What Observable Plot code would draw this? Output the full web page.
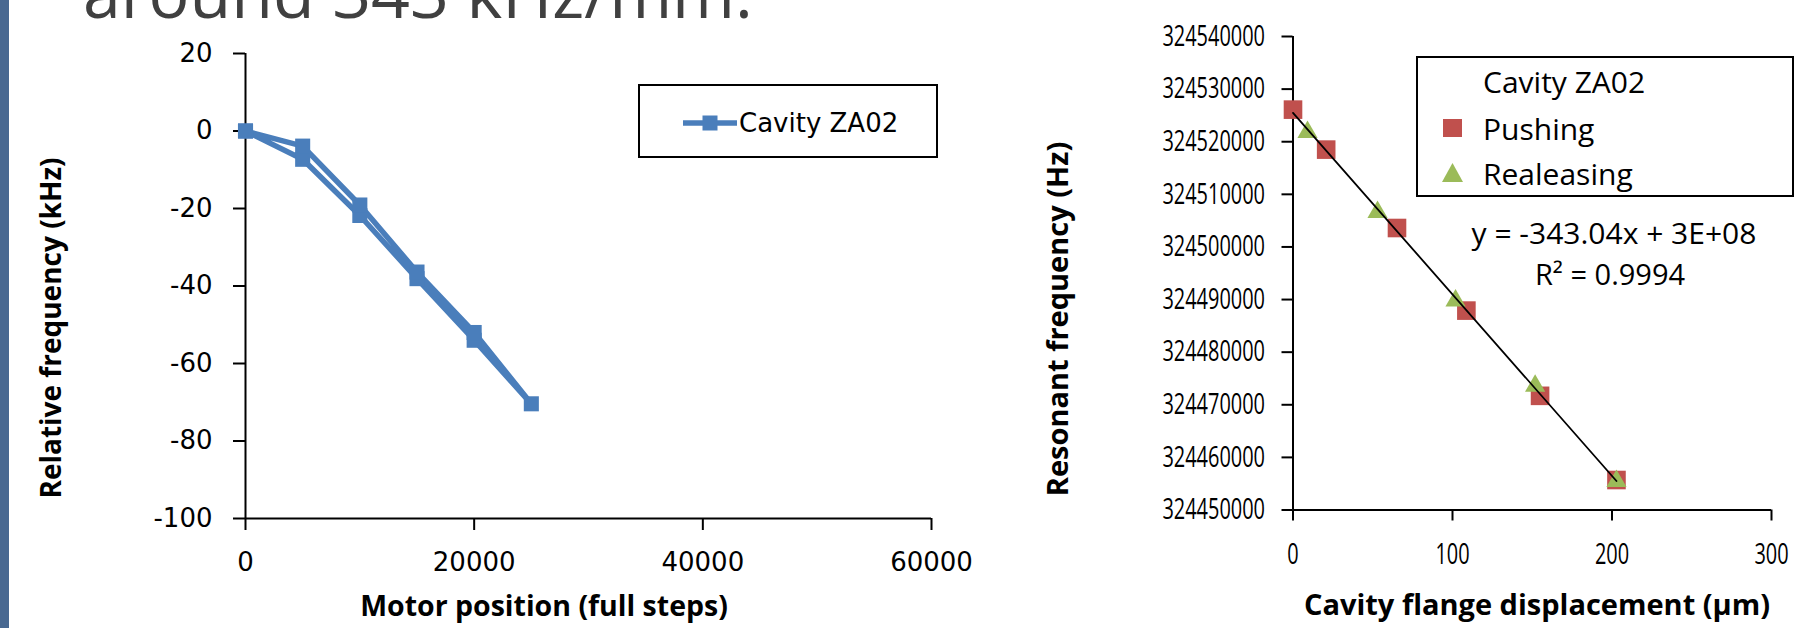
<!DOCTYPE html>
<html>
<head>
<meta charset="utf-8">
<script src="https://cdn.jsdelivr.net/npm/d3@7"></script>
<script src="https://cdn.jsdelivr.net/npm/@observablehq/plot@0.6"></script>
<style>
html, body { margin: 0; padding: 0; background: #fff; }
#root { position: relative; width: 1815px; height: 628px; overflow: hidden; background: #fff; }
#root > svg { position: absolute; top: 0; }
</style>
</head>
<body>
<div id="root"></div>
<script>
// ---------- Left chart data: Cavity ZA02, relative frequency vs motor position ----------
const motorSteps = [0, 5000, 10000, 15000, 20000, 25000, 20000, 15000, 10000, 5000, 0];
const relFreqKHz = [0, -7.3, -21.8, -38.1, -54.0, -70.4, -52.0, -36.4, -19.1, -3.9, 0];
const leftXTicks = [0, 20000, 40000, 60000];
const leftYTicks = [-100, -80, -60, -40, -20, 0, 20];
const leftSeriesName = "Cavity ZA02";

// ---------- Right chart data: resonant frequency vs flange displacement ----------
const pushDisp = [0, 20.8, 65.2, 108.7, 154.9, 202.8];
const pushFreq = [324526100, 324518500, 324503600, 324487900, 324471700, 324455700];
const releaseDisp = [9.1, 53.0, 101.9, 151.8, 202.8];
const releaseFreq = [324521800, 324506600, 324489800, 324473600, 324455500];
const rightXTicks = [0, 100, 200, 300];
const rightYTicks = [324450000, 324460000, 324470000, 324480000, 324490000,
                     324500000, 324510000, 324520000, 324530000, 324540000];
const rightLegendTitle = "Cavity ZA02";
const rightSeriesNames = ["Pushing", "Realeasing"];
const fitEquation = "y = -343.04x + 3E+08";
const fitR2 = "R² = 0.9994";

const slideTitle = "around 343 kHz/mm.";

// colours
const blue = "#4A7EBB", red = "#C0504D", green = "#9BBB59";

const root = document.getElementById("root");

// ---------- Left plot ----------
const leftData = motorSteps.map((x, i) => ({x, y: relFreqKHz[i]}));
const leftFont = "'DejaVu Sans', sans-serif";
const titleFont = "'Open Sans', sans-serif";
const left = Plot.plot({
  width: 960, height: 628,
  marginLeft: 245, marginRight: 29, marginTop: 53, marginBottom: 110,
  x: {domain: [0, 60000]},
  y: {domain: [-100, 20]},
  style: {fontFamily: leftFont, fontSize: "26px", color: "#000", background: "transparent", overflow: "visible"},
  marks: [
    Plot.ruleX([0], {stroke: "#000", strokeWidth: 2}),
    Plot.ruleY([-100], {stroke: "#000", strokeWidth: 2}),
    Plot.axisX({ticks: leftXTicks, tickSize: 12, tickPadding: 22, tickFormat: d => String(d), label: null, strokeWidth: 2, fontSize: 26}),
    Plot.axisY({ticks: leftYTicks, tickSize: 12, tickPadding: 21, tickFormat: d => String(d), label: null, strokeWidth: 2, fontSize: 26}),
    Plot.line(leftData, {x: "x", y: "y", stroke: blue, strokeWidth: 5.5, strokeLinejoin: "round"}),
    Plot.dot(leftData, {x: "x", y: "y", symbol: "square", r: 8.5, fill: blue, stroke: "none"})
  ]
});
left.style.left = "0px";
root.appendChild(left);

// ---------- Right plot ----------
const pushData = pushDisp.map((x, i) => ({x, y: pushFreq[i]}));
const releaseData = releaseDisp.map((x, i) => ({x, y: releaseFreq[i]}));
const allData = pushData.concat(releaseData);
const rightFont = "'Open Sans', sans-serif";
const right = Plot.plot({
  width: 855, height: 628,
  marginLeft: 332.5, marginRight: 44, marginTop: 36, marginBottom: 118.5,
  x: {domain: [0, 300]},
  y: {domain: [324450000, 324540000]},
  style: {fontFamily: rightFont, fontSize: "29px", color: "#000", background: "transparent", overflow: "visible"},
  marks: [
    Plot.ruleX([0], {stroke: "#000", strokeWidth: 2}),
    Plot.ruleY([324450000], {stroke: "#000", strokeWidth: 2}),
    Plot.axisX({ticks: rightXTicks, tickSize: 11, tickPadding: 22, tickFormat: d => String(d), label: null, strokeWidth: 2, fontSize: 29}),
    Plot.axisY({ticks: rightYTicks, tickSize: 11, tickPadding: 17, tickFormat: d3.format("d"), label: null, strokeWidth: 2, fontSize: 29}),
    Plot.dot(pushData, {x: "x", y: "y", symbol: "square", r: 10.5, fill: red, stroke: "none"}),
    Plot.dot(releaseData, {x: "x", y: "y", symbol: "triangle", r: 7.5, fill: green, stroke: "none"}),
    Plot.linearRegressionY(allData, {x: "x", y: "y", stroke: "#000", strokeWidth: 1.8, ci: 0})
  ]
});
right.style.left = "960px";
root.appendChild(right);
// the reference's tick numbers on this panel are set in a condensed face: squeeze the glyphs
d3.select(right).selectAll("g[aria-label='y-axis tick label'] text, g[aria-label='x-axis tick label'] text")
  .each(function() {
    const n = this.textContent.length;
    this.setAttribute("textLength", n * 11.4);
    this.setAttribute("lengthAdjust", "spacingAndGlyphs");
  });

// ---------- Overlay: slide title, axis titles, legends, equation ----------
const svg = d3.select(root).append("svg")
  .attr("width", 1815).attr("height", 628)
  .style("left", "0px").style("pointer-events", "none");

svg.append("rect").attr("x", 0).attr("y", 0).attr("width", 9).attr("height", 628).attr("fill", "#486891");

svg.append("text").attr("x", 83).attr("y", 18)
  .attr("font-family", "'Open Sans', sans-serif").attr("font-size", 68).attr("fill", "#404040")
  .text(slideTitle);

// axis titles
svg.append("text").attr("transform", "translate(50,328) rotate(-90)")
  .attr("text-anchor", "middle").attr("dominant-baseline", "central")
  .attr("font-family", titleFont).attr("font-weight", "bold").attr("font-size", 28)
  .text("Relative frequency (kHz)");
svg.append("text").attr("x", 544).attr("y", 605)
  .attr("text-anchor", "middle").attr("dominant-baseline", "central")
  .attr("font-family", titleFont).attr("font-weight", "bold").attr("font-size", 28.5)
  .text("Motor position (full steps)");
svg.append("text").attr("transform", "translate(1056,319) rotate(-90)")
  .attr("text-anchor", "middle").attr("dominant-baseline", "central")
  .attr("font-family", titleFont).attr("font-weight", "bold").attr("font-size", 29)
  .text("Resonant frequency (Hz)");
svg.append("text").attr("x", 1537).attr("y", 603)
  .attr("text-anchor", "middle").attr("dominant-baseline", "central")
  .attr("font-family", titleFont).attr("font-weight", "bold").attr("font-size", 29)
  .text("Cavity flange displacement (µm)");

// left legend
svg.append("rect").attr("x", 639).attr("y", 85).attr("width", 298).attr("height", 72)
  .attr("fill", "none").attr("stroke", "#000").attr("stroke-width", 2);
svg.append("line").attr("x1", 683).attr("x2", 737).attr("y1", 123).attr("y2", 123)
  .attr("stroke", blue).attr("stroke-width", 5.5);
svg.append("rect").attr("x", 710 - 7.5).attr("y", 123 - 7.5).attr("width", 15).attr("height", 15).attr("fill", blue);
svg.append("text").attr("x", 739).attr("y", 123).attr("dominant-baseline", "central")
  .attr("font-family", leftFont).attr("font-size", 26).text(leftSeriesName);

// right legend
svg.append("rect").attr("x", 1417).attr("y", 57).attr("width", 376).attr("height", 139)
  .attr("fill", "none").attr("stroke", "#000").attr("stroke-width", 2);
const rl = svg.append("g").attr("font-family", rightFont).attr("font-size", 30);
rl.append("text").attr("x", 1483).attr("y", 81).attr("dominant-baseline", "central").text(rightLegendTitle);
rl.append("rect").attr("x", 1443).attr("y", 119).attr("width", 19).attr("height", 18).attr("fill", red);
rl.append("text").attr("x", 1483).attr("y", 128).attr("dominant-baseline", "central").text(rightSeriesNames[0]);
rl.append("path").attr("d", "M1452.5,163 L1463,182 L1442,182 Z").attr("fill", green);
rl.append("text").attr("x", 1483).attr("y", 173).attr("dominant-baseline", "central").text(rightSeriesNames[1]);

// trendline equation
const eq = svg.append("g").attr("font-family", rightFont).attr("font-size", 30).attr("text-anchor", "middle");
eq.append("text").attr("x", 1614).attr("y", 232).attr("dominant-baseline", "central").text(fitEquation);
eq.append("text").attr("x", 1610).attr("y", 273).attr("dominant-baseline", "central").attr("font-size", 29).text(fitR2);
</script>
</body>
</html>
